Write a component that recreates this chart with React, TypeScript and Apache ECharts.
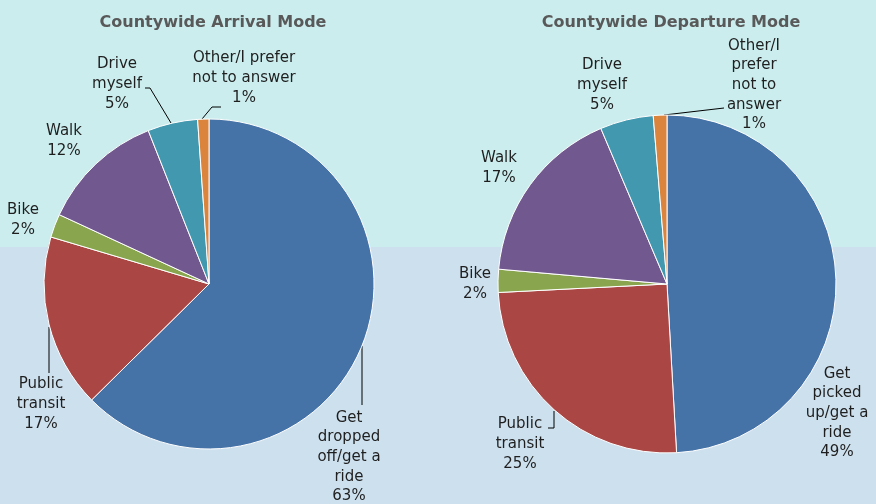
import React, { useEffect, useRef } from "react";
import * as echarts from "echarts";

// ---- data ----
const arrivalModes = [
  "Get\ndropped\noff/get a\nride",
  "Public\ntransit",
  "Bike",
  "Walk",
  "Drive\nmyself",
  "Other/I prefer\nnot to answer",
];
const arrivalValues = [62.6, 17.0, 2.3, 12.1, 4.9, 1.1];

const departureModes = [
  "Get\npicked\nup/get a\nride",
  "Public\ntransit",
  "Bike",
  "Walk",
  "Drive\nmyself",
  "Other/I\nprefer\nnot to\nanswer",
];
const departureValues = [49.1, 25.1, 2.2, 17.2, 5.1, 1.3];

const titles = ["Countywide Arrival Mode", "Countywide Departure Mode"];

// ---- styling / layout ----
const sliceColors = ["#4572A7", "#AA4643", "#89A54E", "#71588F", "#4198AF", "#DB843D"];
const FONT = "'DejaVu Sans', sans-serif";

// label anchor positions (centre of label block) per chart
const arrivalLabelPos: [number, number][] = [
  [349, 456],
  [41, 403],
  [23, 219],
  [64, 140],
  [117, 83],
  [244, 77],
];
const departureLabelPos: [number, number][] = [
  [837, 412],
  [520, 443],
  [475, 283],
  [499, 167],
  [602, 84],
  [754, 84],
];
const arrivalLeaders: (number[][] | null)[] = [
  [[362, 346], [362, 405]],
  [[49, 327], [49, 373]],
  null,
  null,
  [[171, 123], [150, 88], [145, 88]],
  [[202, 119], [212, 107], [221, 107]],
];
const departureLeaders: (number[][] | null)[] = [
  null,
  [[554, 411], [554, 428], [548, 428]],
  null,
  null,
  null,
  [[664, 115], [724, 108]],
];

function buildSeries(
  names: string[],
  values: number[],
  center: [number, number],
  radius: number,
  pos: [number, number][],
  leaders: (number[][] | null)[]
) {
  return {
    type: "pie",
    center,
    radius,
    startAngle: 90,
    clockwise: true,
    avoidLabelOverlap: false,
    itemStyle: { borderColor: "#ffffff", borderWidth: 1 },
    label: {
      show: true,
      position: "outside",
      formatter: (p: any) => `${p.name}\n${Math.round(p.value)}%`,
      fontFamily: FONT,
      fontSize: 15,
      lineHeight: 19.6,
      color: "#1f1f1f",
      align: "center",
    },
    labelLine: {
      show: true,
      lineStyle: { color: "#000000", width: 1 },
    },
    labelLayout: (params: any) => {
      const i = params.dataIndex;
      const out: any = {
        x: pos[i][0],
        y: pos[i][1],
        align: "center",
        verticalAlign: "middle",
      };
      if (leaders[i]) out.labelLinePoints = leaders[i];
      return out;
    },
    emphasis: { disabled: true },
    data: names.map((n, i) => ({
      name: n,
      value: values[i],
      itemStyle: { color: sliceColors[i] },
      labelLine: { show: !!leaders[i] },
    })),
  };
}

export default function App() {
  const ref = useRef<HTMLDivElement>(null);
  useEffect(() => {
    if (!ref.current) return;
    const chart = echarts.init(ref.current, undefined, { renderer: "svg" });
    chart.setOption({
      animation: false,
      graphic: [
        {
          type: "rect",
          z: -10,
          silent: true,
          shape: { x: 0, y: 0, width: 876, height: 247 },
          style: { fill: "#CBEDEE" },
        },
        {
          type: "rect",
          z: -10,
          silent: true,
          shape: { x: 0, y: 247, width: 876, height: 257 },
          style: { fill: "#CDE0EE" },
        },
      ],
      title: [
        {
          text: titles[0],
          left: 208,
          top: 8,
          textAlign: "center",
          textStyle: { fontFamily: FONT, fontSize: 16, fontWeight: "bold", color: "#595959" },
        },
        {
          text: titles[1],
          left: 666,
          top: 8,
          textAlign: "center",
          textStyle: { fontFamily: FONT, fontSize: 16, fontWeight: "bold", color: "#595959" },
        },
      ],
      series: [
        buildSeries(arrivalModes, arrivalValues, [209, 284], 165, arrivalLabelPos, arrivalLeaders),
        buildSeries(departureModes, departureValues, [667, 284], 169, departureLabelPos, departureLeaders),
      ],
    });
    return () => chart.dispose();
  }, []);
  return (
    <div
      ref={ref}
      style={{ position: "fixed", left: 0, top: 0, width: 876, height: 504 }}
    />
  );
}
